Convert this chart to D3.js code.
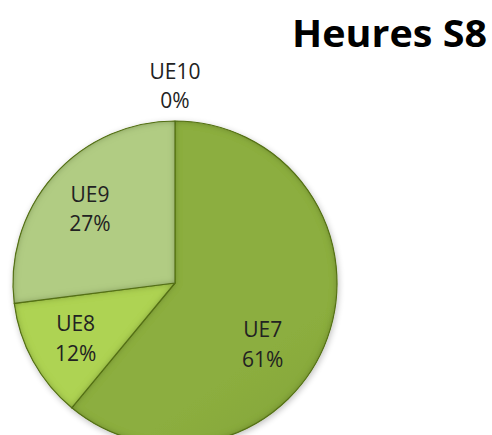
<!DOCTYPE html>
<html>
<head>
<meta charset="UTF-8">
<title>Heures S8</title>
<script src="https://d3js.org/d3.v7.min.js"></script>
<style>
  body { margin: 0; background: #fff; }
  .chart { font-family: "Open Sans", sans-serif; }
  .label { font-size: 21px; fill: #222; }
  .title { font-size: 38px; font-weight: bold; fill: #000; }
</style>
</head>
<body>
<svg class="chart" width="492" height="435"></svg>
<script>
// data (percent of hours)
var categories = ["UE7", "UE8", "UE9", "UE10"];
var values = [61, 12, 27, 0];
var colors = ["#87a83d", "#a8cc50", "#abc57e", "#c8dc9a"];
var darker = ["#6d8b27", "#8cb236", "#93ad66", "#a9c47c"];
var title = "Heures S8";

// label nudges (Excel "best fit" moves the big slice label)
var labelShift = { UE7: [-19, 22] };

var svg = d3.select(".chart"),
    cx = 175, cy = 283, r = 162;

var defs = svg.append("defs");

// soft drop shadow around the pie
var f = defs.append("filter").attr("id", "shadow")
    .attr("x", "-20%").attr("y", "-20%").attr("width", "140%").attr("height", "140%");
f.append("feGaussianBlur").attr("in", "SourceAlpha").attr("stdDeviation", 3);
f.append("feOffset").attr("dx", 1).attr("dy", 2).attr("result", "b");
f.append("feComponentTransfer").append("feFuncA").attr("type", "linear").attr("slope", 0.25);
var m = f.append("feMerge");
m.append("feMergeNode");
m.append("feMergeNode").attr("in", "SourceGraphic");

// inner bevel (darkened edge)
var bev = defs.append("filter").attr("id", "bevel");
bev.append("feGaussianBlur").attr("in", "SourceAlpha").attr("stdDeviation", 3.5).attr("result", "blur");
bev.append("feComposite").attr("in", "SourceAlpha").attr("in2", "blur")
    .attr("operator", "arithmetic").attr("k2", 1).attr("k3", -1).attr("result", "edge");
bev.append("feFlood").attr("flood-color", "#3d5410").attr("flood-opacity", 0.7);
bev.append("feComposite").attr("in2", "edge").attr("operator", "in").attr("result", "edgeC");
var bm = bev.append("feMerge");
bm.append("feMergeNode").attr("in", "SourceGraphic");
bm.append("feMergeNode").attr("in", "edgeC");

categories.forEach(function(c, i) {
  var g = defs.append("linearGradient").attr("id", "grad" + i)
      .attr("gradientUnits", "userSpaceOnUse")
      .attr("x1", cx - r).attr("y1", cy - r).attr("x2", cx + r * 0.4).attr("y2", cy + r);
  g.append("stop").attr("offset", "0%").attr("stop-color", d3.color(colors[i]).brighter(0.1));
  g.append("stop").attr("offset", "100%").attr("stop-color", darker[i]);
});

var data = categories.map(function(c, i) { return { name: c, value: values[i], i: i }; });

var pie = d3.pie().sort(null).value(function(d) { return d.value; });
var arc = d3.arc().innerRadius(0).outerRadius(r);
var labelArc = d3.arc().innerRadius(r * 0.7).outerRadius(r * 0.7);
var outerLabelArc = d3.arc().innerRadius(r * 1.22).outerRadius(r * 1.22);

var arcs = pie(data);

var g = svg.append("g").attr("transform", "translate(" + cx + "," + cy + ")");

g.append("g").attr("filter", "url(#shadow)")
  .selectAll("path")
  .data(arcs.filter(function(d) { return d.value > 0; }))
  .enter().append("path")
    .attr("d", arc)
    .attr("fill", function(d) { return "url(#grad" + d.data.i + ")"; })
    .attr("stroke", "#5d7a1f")
    .attr("stroke-width", 1.2)
    .attr("stroke-linejoin", "round")
    .attr("filter", "url(#bevel)");

// labels
var lab = g.selectAll(".lab")
  .data(arcs)
  .enter().append("text")
    .attr("class", "label")
    .attr("text-anchor", "middle")
    .attr("transform", function(d) {
      var p = d.value > 0 ? labelArc.centroid(d) : outerLabelArc.centroid(d);
      var s = labelShift[d.data.name] || [0, 0];
      return "translate(" + (p[0] + s[0]) + "," + (p[1] + s[1]) + ")";
    });

lab.append("tspan").attr("x", 0).attr("dy", "-0.3em").text(function(d) { return d.data.name; });
lab.append("tspan").attr("x", 0).attr("dy", "1.4em").text(function(d) { return d.data.value + "%"; });

svg.append("text")
  .attr("class", "title")
  .attr("x", 292).attr("y", 47)
  .attr("textLength", 195)
  .attr("lengthAdjust", "spacingAndGlyphs")
  .text(title);
</script>
</body>
</html>
